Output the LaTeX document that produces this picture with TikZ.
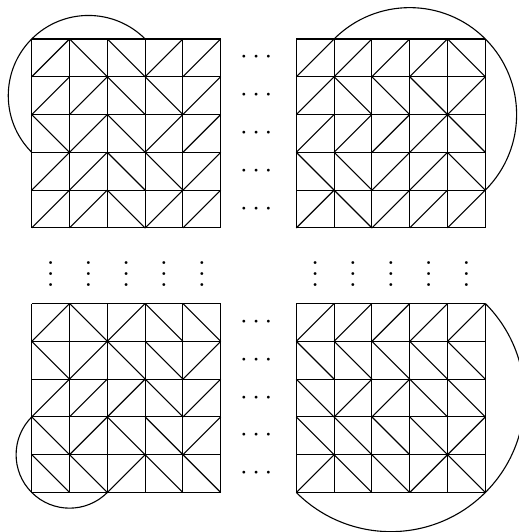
\documentclass[tikz,border=0pt]{standalone}
\usepackage{amsmath,amssymb}
\usepackage{tikz}
\usetikzlibrary{calc}

\begin{document}
\begin{tikzpicture}[x=0.483cm,y=0.483cm,
    edge/.style={black, line width=0.4pt},
    loopline/.style={black, line width=0.4pt},
    hdots/.style={inner sep=0pt},
    vdotsnode/.style={inner sep=0pt}]
    \useasboundingbox (-0.84,-1.045) rectangle (12.89,13.03);
    % four grids
    \draw[edge] (0,7) grid[step=1] (5,12);
    \draw[edge] (7,7) grid[step=1] (12,12);
    \draw[edge] (0,0) grid[step=1] (5,5);
    \draw[edge] (7,0) grid[step=1] (12,5);
    % diagonals, upper left block
    \draw[edge] (0,11)--(1,12) (1,12)--(2,11) (2,12)--(3,11) (3,11)--(4,12) (4,11)--(5,12);
    \draw[edge] (0,10)--(1,11) (1,10)--(2,11) (2,11)--(3,10) (3,11)--(4,10) (4,10)--(5,11);
    \draw[edge] (0,10)--(1,9) (1,9)--(2,10) (2,10)--(3,9) (3,9)--(4,10) (4,9)--(5,10);
    \draw[edge] (0,8)--(1,9) (1,8)--(2,9) (2,9)--(3,8) (3,9)--(4,8) (4,8)--(5,9);
    \draw[edge] (0,7)--(1,8) (1,7)--(2,8) (2,8)--(3,7) (3,7)--(4,8) (4,7)--(5,8);
    % diagonals, upper right block
    \draw[edge] (7,11)--(8,12) (8,11)--(9,12) (9,11)--(10,12) (10,11)--(11,12) (11,12)--(12,11);
    \draw[edge] (7,10)--(8,11) (8,11)--(9,10) (9,11)--(10,10) (10,11)--(11,10) (11,10)--(12,11);
    \draw[edge] (7,9)--(8,10) (8,9)--(9,10) (9,9)--(10,10) (10,9)--(11,10) (11,10)--(12,9);
    \draw[edge] (7,9)--(8,8) (8,9)--(9,8) (9,8)--(10,9) (10,8)--(11,9) (11,9)--(12,8);
    \draw[edge] (7,7)--(8,8) (8,8)--(9,7) (9,7)--(10,8) (10,7)--(11,8) (11,7)--(12,8);
    % diagonals, lower left block
    \draw[edge] (0,4)--(1,5) (1,5)--(2,4) (2,4)--(3,5) (3,5)--(4,4) (4,5)--(5,4);
    \draw[edge] (0,4)--(1,3) (1,3)--(2,4) (2,4)--(3,3) (3,4)--(4,3) (4,3)--(5,4);
    \draw[edge] (0,2)--(1,3) (1,2)--(2,3) (2,2)--(3,3) (3,3)--(4,2) (4,2)--(5,3);
    \draw[edge] (0,2)--(1,1) (1,1)--(2,2) (2,2)--(3,1) (3,2)--(4,1) (4,1)--(5,2);
    \draw[edge] (0,1)--(1,0) (1,1)--(2,0) (2,0)--(3,1) (3,1)--(4,0) (4,1)--(5,0);
    % diagonals, lower right block
    \draw[edge] (7,4)--(8,5) (8,4)--(9,5) (9,4)--(10,5) (10,4)--(11,5) (11,4)--(12,5);
    \draw[edge] (7,4)--(8,3) (8,4)--(9,3) (9,4)--(10,3) (10,4)--(11,3) (11,4)--(12,3);
    \draw[edge] (7,3)--(8,2) (8,2)--(9,3) (9,2)--(10,3) (10,3)--(11,2) (11,3)--(12,2);
    \draw[edge] (7,2)--(8,1) (8,2)--(9,1) (9,2)--(10,1) (10,2)--(11,1) (11,1)--(12,2);
    \draw[edge] (7,0)--(8,1) (8,1)--(9,0) (9,1)--(10,0) (10,0)--(11,1) (11,1)--(12,0);
    % boundary arcs
    \draw[loopline] (3,12) arc[start angle=45, end angle=225, radius=2.1213];
    \draw[loopline] (8,12) arc[start angle=135, end angle=-45, radius=2.8284];
    \draw[loopline] (0,2) arc[start angle=135, end angle=315, radius=1.4142];
    \draw[loopline] (12,5) arc[start angle=45, end angle=-135, radius=3.5355];
    % dots between blocks
    \node[hdots] (hA) at (6,11.5) {$\cdots$};
    \node[hdots] (hB) at (6,10.5) {$\cdots$};
    \node[hdots] (hC) at (6,9.5) {$\cdots$};
    \node[hdots] (hD) at (6,8.5) {$\cdots$};
    \node[hdots] (hE) at (6,7.5) {$\cdots$};
    \node[hdots] (hF) at (6,4.5) {$\cdots$};
    \node[hdots] (hG) at (6,3.5) {$\cdots$};
    \node[hdots] (hH) at (6,2.5) {$\cdots$};
    \node[hdots] (hI) at (6,1.5) {$\cdots$};
    \node[hdots] (hJ) at (6,0.5) {$\cdots$};
    \node[vdotsnode] (vA) at (0.5,6) {$\vdots$};
    \node[vdotsnode] (vB) at (1.5,6) {$\vdots$};
    \node[vdotsnode] (vC) at (2.5,6) {$\vdots$};
    \node[vdotsnode] (vD) at (3.5,6) {$\vdots$};
    \node[vdotsnode] (vE) at (4.5,6) {$\vdots$};
    \node[vdotsnode] (vF) at (7.5,6) {$\vdots$};
    \node[vdotsnode] (vG) at (8.5,6) {$\vdots$};
    \node[vdotsnode] (vH) at (9.5,6) {$\vdots$};
    \node[vdotsnode] (vI) at (10.5,6) {$\vdots$};
    \node[vdotsnode] (vJ) at (11.5,6) {$\vdots$};
\end{tikzpicture}
\end{document}
